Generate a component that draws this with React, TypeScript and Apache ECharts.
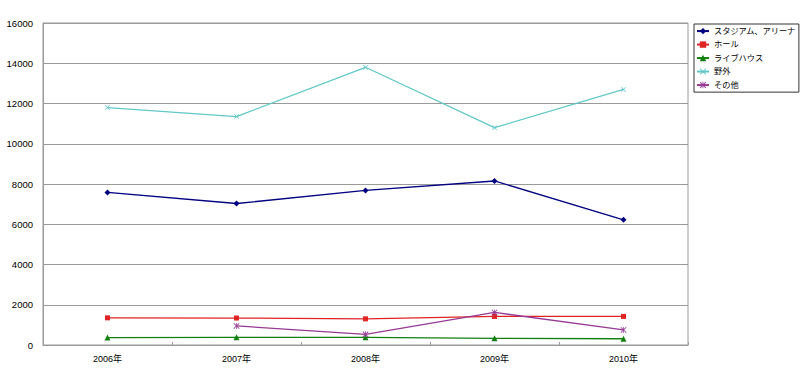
import React, { useEffect, useRef } from "react";
import * as echarts from "echarts";

const categories = ["2006年", "2007年", "2008年", "2009年", "2010年"];
const stadium = [7580, 7030, 7680, 8150, 6220];
const hall = [1350, 1340, 1300, 1420, 1420];
const liveHouse = [370, 380, 380, 330, 310];
const outdoor = [11800, 11350, 13800, 10800, 12700];
const other: (number | null)[] = [null, 950, 530, 1620, 750];
const yTicks = { min: 0, max: 16000, interval: 2000 };

const X_PATH = "path://M0,1L1,0L5,4L9,0L10,1L6,5L10,9L9,10L5,6L1,10L0,9L4,5Z";
const STAR_PATH =
  "path://M0,1L1,0L4.4,3.4L4.4,0L5.6,0L5.6,3.4L9,0L10,1L6,5L10,9L9,10L5.6,6.6L5.6,10L4.4,10L4.4,6.6L1,10L0,9L4,5Z";

const FONT = "'Liberation Sans', 'Noto Sans CJK JP', sans-serif";

export default function App() {
  const ref = useRef<HTMLDivElement>(null);
  useEffect(() => {
    if (!ref.current) return;
    const chart = echarts.init(ref.current, null, { renderer: "svg" });
    const mk = (name: string, data: (number | null)[], color: string, symbol: string, size: number) => ({
      name,
      type: "line",
      data,
      symbol,
      symbolSize: size,
      showSymbol: true,
      lineStyle: { color, width: 1.3 },
      itemStyle: { color },
      connectNulls: false,
    });
    chart.setOption({
      animation: false,
      backgroundColor: "#fff",
      textStyle: { fontFamily: FONT },
      grid: {
        left: 43,
        right: 112,
        top: 23,
        bottom: 25,
        show: true,
        borderColor: "#9a9a9a",
        borderWidth: 1,
      },
      legend: {
        orient: "vertical",
        left: 694,
        top: 24,
        padding: [3, 3, 3, 2],
        itemGap: 5.3,
        itemWidth: 12,
        itemHeight: 8,
        borderColor: "#333",
        borderWidth: 1,
        borderRadius: 0,
        textStyle: { fontSize: 8.2, color: "#000", fontFamily: FONT },
        data: ["スタジアム、アリーナ", "ホール", "ライブハウス", "野外", "その他"],
      },
      xAxis: {
        type: "category",
        data: categories,
        boundaryGap: true,
        axisLine: { lineStyle: { color: "#9a9a9a" } },
        axisTick: { show: true, inside: true, length: 3, lineStyle: { color: "#9a9a9a" } },
        axisLabel: { color: "#000", fontSize: 9, margin: 9, fontFamily: FONT },
        splitLine: { show: false },
      },
      yAxis: {
        type: "value",
        min: yTicks.min,
        max: yTicks.max,
        interval: yTicks.interval,
        axisLine: { show: true, lineStyle: { color: "#9a9a9a" } },
        axisTick: { show: false },
        axisLabel: {
          color: "#000",
          fontSize: 9.5,
          margin: 10,
          fontFamily: FONT,
          formatter: (v: number) => String(v),
        },
        splitLine: { show: true, lineStyle: { color: "#9a9a9a", width: 1 } },
      },
      series: [
        mk("スタジアム、アリーナ", stadium, "#000080", "diamond", 6),
        mk("ホール", hall, "#e02424", "rect", 5),
        mk("ライブハウス", liveHouse, "#108010", "triangle", 6),
        mk("野外", outdoor, "#62c8c8", X_PATH, 5),
        mk("その他", other, "#963a96", STAR_PATH, 6),
      ],
    });
    return () => chart.dispose();
  }, []);
  return (
    <div
      ref={ref}
      style={{ position: "absolute", left: 0, top: 0, width: 800, height: 370 }}
    />
  );
}
